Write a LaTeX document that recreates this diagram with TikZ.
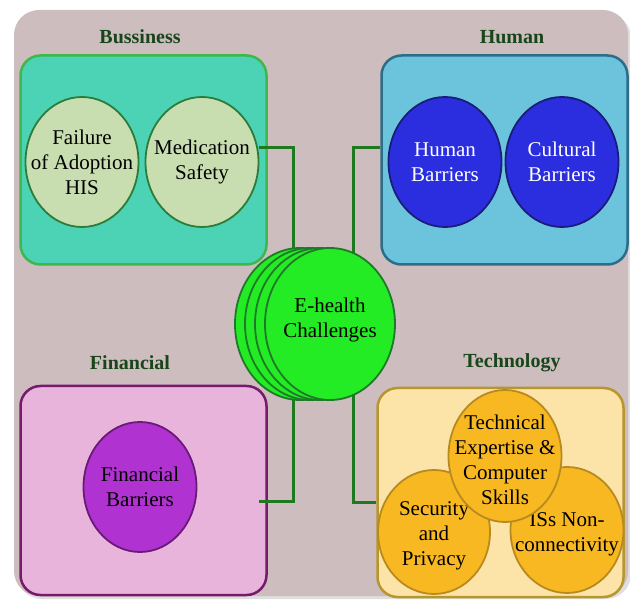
\documentclass[tikz,border=0pt]{standalone}
\usepackage{fontspec}
\setmainfont{Liberation Serif}
\newfontfamily\diagfont{Liberation Serif}
\usetikzlibrary{positioning, shapes.geometric}

\definecolor{canvas}{RGB}{205,189,191}
\definecolor{tagtext}{RGB}{24,70,26}
\definecolor{linkgreen}{RGB}{31,122,31}
\definecolor{busfill}{RGB}{76,211,181}
\definecolor{busline}{RGB}{62,184,76}
\definecolor{busitem}{RGB}{200,222,176}
\definecolor{busitemline}{RGB}{46,124,58}
\definecolor{humfill}{RGB}{108,196,220}
\definecolor{humline}{RGB}{44,110,136}
\definecolor{humitem}{RGB}{42,46,222}
\definecolor{humitemline}{RGB}{26,30,120}
\definecolor{finfill}{RGB}{232,180,220}
\definecolor{finline}{RGB}{118,26,108}
\definecolor{finitem}{RGB}{176,50,208}
\definecolor{finitemline}{RGB}{106,26,120}
\definecolor{techfill}{RGB}{252,227,168}
\definecolor{techline}{RGB}{184,150,46}
\definecolor{techitem}{RGB}{248,184,34}
\definecolor{techitemline}{RGB}{184,138,30}
\definecolor{hubfill}{RGB}{36,236,36}
\definecolor{hubline}{RGB}{30,122,40}

\pgfdeclarelayer{back}
\pgfdeclarelayer{front}
\pgfsetlayers{back,main,front}

\begin{document}
\begin{tikzpicture}[x=1pt, y=-1pt,
  every node/.style={align=center, font=\diagfont\fontsize{21}{25}\selectfont},
  panel/.style={draw, line width=2.5pt, rounded corners=20pt, inner sep=0pt, minimum width=246pt, minimum height=209pt},
  item/.style={draw, ellipse, line width=1.8pt, inner sep=0pt, minimum width=113pt, minimum height=130pt},
  hub/.style={draw=hubline, fill=hubfill, ellipse, line width=1.8pt, inner sep=0pt, minimum width=130pt, minimum height=152pt},
  tag/.style={font=\diagfont\fontsize{20}{24}\selectfont\bfseries, text=tagtext},
  link/.style={draw=linkgreen, line width=3pt}]
  \useasboundingbox (0,0) rectangle (630,604);

  % Canvas
  \begin{pgfonlayer}{back}
    \fill[gray!25, rounded corners=25pt] (17,13) rectangle (631,599);
    \fill[canvas, rounded corners=25pt] (14,10) rectangle (628,596);
  \end{pgfonlayer}

  % Group titles
  \node[tag] (bustag) at (140,37) {Bussiness};
  \node[tag] (humtag) at (512,37) {Human};
  \node[tag] (fintag) at (130,363) {Financial};
  \node[tag] (techtag) at (512,363) {Technology};

  % Group boxes
  \node[panel, draw=busline, fill=busfill] (busbox) at (143.5,160) {};
  \node[panel, draw=humline, fill=humfill] (humbox) at (504.5,160) {};
  \node[panel, draw=finline, fill=finfill] (finbox) at (143.5,490.5) {};
  \node[panel, draw=techline, fill=techfill] (techbox) at (500.5,492.5) {};

  % Bussiness
  \node[item, draw=busitemline, fill=busitem, label={center:Failure\\of Adoption\\HIS}] (adoption) at (82,162) {};
  \node[item, draw=busitemline, fill=busitem, label={center:Medication\\Safety}] (medsafety) at (202,162) {};

  % Human
  \node[item, draw=humitemline, fill=humitem, label={[text=white]center:Human\\Barriers}] (humbarriers) at (445,162) {};
  \node[item, draw=humitemline, fill=humitem, label={[text=white]center:Cultural\\Barriers}] (culbarriers) at (562,162) {};

  % Financial
  \node[item, draw=finitemline, fill=finitem, label={center:Financial\\Barriers}] (finbarriers) at (140,487) {};

  % Technology
  \node[item, draw=techitemline, fill=techitem, minimum width=112pt, minimum height=124pt, label={[yshift=-4pt]center:Security\\and\\Privacy}] (security) at (434,532) {};
  \node[item, draw=techitemline, fill=techitem, minimum height=126pt, label={[yshift=-4pt]center:ISs Non-\\connectivity}] (nonconnect) at (567,530) {};
  \node[item, draw=techitemline, fill=techitem, minimum height=132pt, label={[yshift=-4pt]center:Technical\\Expertise \&\\Computer\\Skills}] (expertise) at (505,456) {};

  % Centre
  \begin{pgfonlayer}{front}
    \foreach \i in {3,2,1}
      \node[hub] (hub\i) at (330-10*\i,324) {};
    \node[hub, label={[yshift=4pt]center:E-health\\Challenges}] (ehealth) at (330,324) {};
  \end{pgfonlayer}

  % Links
  \draw[link] ([yshift=14pt]medsafety.east) -| ([xshift=-37pt]ehealth.center);
  \draw[link] ([yshift=12pt]humbox.west) -| ([xshift=23pt]ehealth.center);
  \draw[link] ([xshift=-37pt]ehealth.center) |- ([xshift=-9pt, yshift=-11pt]finbox.east);
  \draw[link] ([xshift=23pt]ehealth.center) |- ([yshift=-10pt]techbox.west);
\end{tikzpicture}
\end{document}
